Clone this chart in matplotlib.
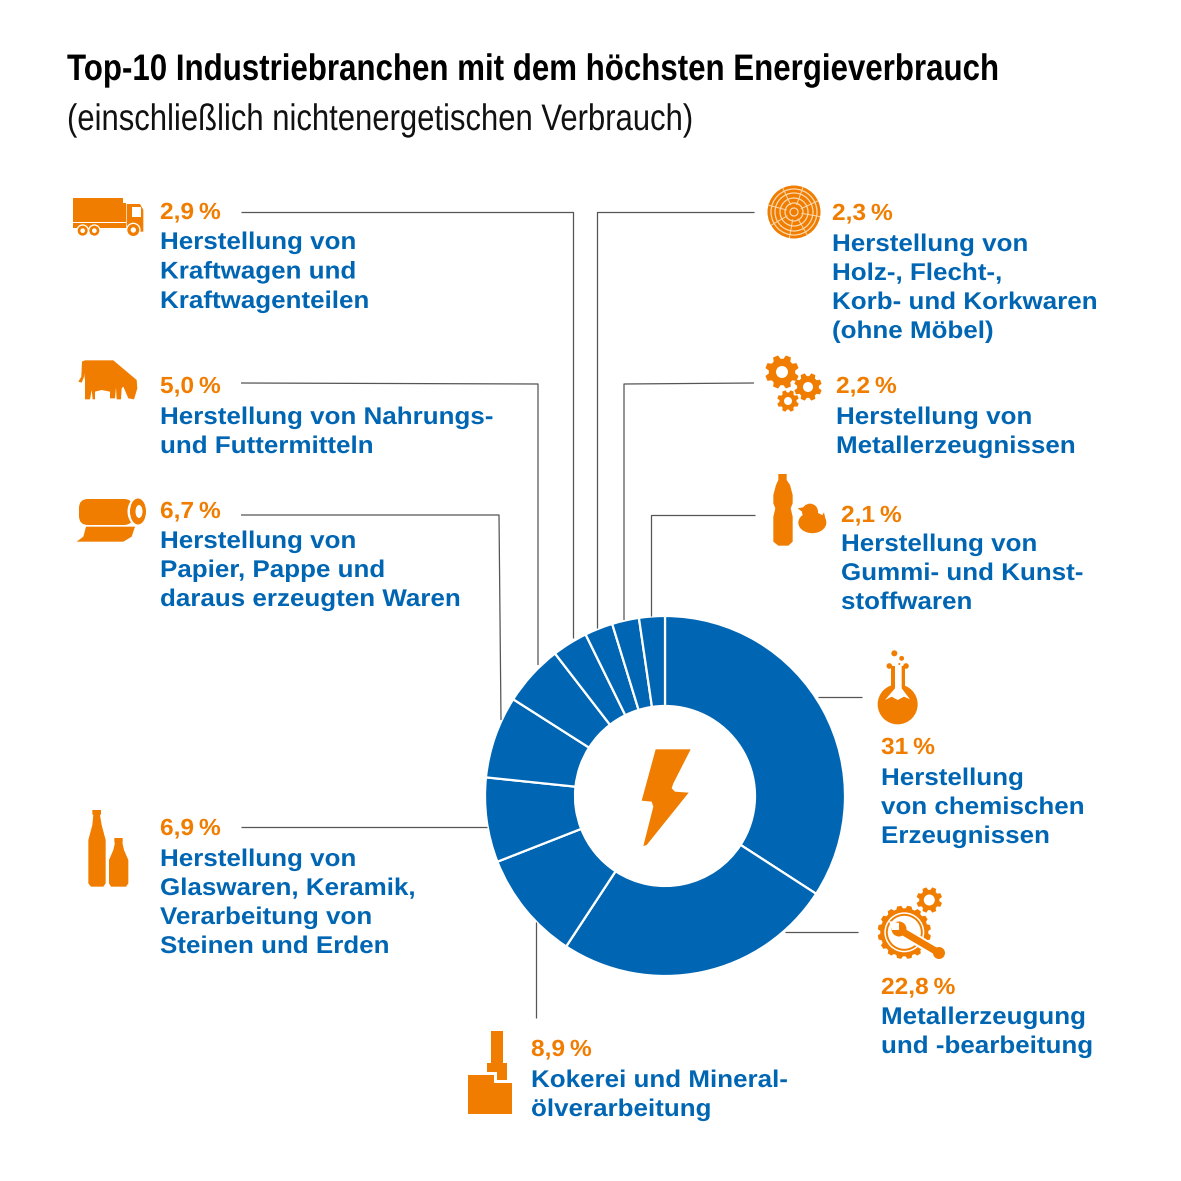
import numpy as np
import matplotlib
matplotlib.use("Agg")
import matplotlib.pyplot as plt
from matplotlib.patches import Circle, Polygon, FancyBboxPatch, Ellipse
from matplotlib.patheffects import AbstractPathEffect
from matplotlib.transforms import Affine2D

# ---- data ----
shares = [31, 22.8, 8.9, 6.9, 6.7, 5.0, 2.9, 2.3, 2.2, 2.1]
pct_labels = ["31 %", "22,8 %", "8,9 %", "6,9 %", "6,7 %", "5,0 %", "2,9 %", "2,3 %", "2,2 %", "2,1 %"]
names = [
    ["Herstellung", "von chemischen", "Erzeugnissen"],
    ["Metallerzeugung", "und -bearbeitung"],
    ["Kokerei und Mineral-", "ölverarbeitung"],
    ["Herstellung von", "Glaswaren, Keramik,", "Verarbeitung von", "Steinen und Erden"],
    ["Herstellung von", "Papier, Pappe und", "daraus erzeugten Waren"],
    ["Herstellung von Nahrungs-", "und Futtermitteln"],
    ["Herstellung von", "Kraftwagen und", "Kraftwagenteilen"],
    ["Herstellung von", "Holz-, Flecht-,", "Korb- und Korkwaren", "(ohne Möbel)"],
    ["Herstellung von", "Metallerzeugnissen"],
    ["Herstellung von", "Gummi- und Kunst-", "stoffwaren"],
]
title = "Top-10 Industriebranchen mit dem höchsten Energieverbrauch"
subtitle = "(einschließlich nichtenergetischen Verbrauch)"

# ---- layout (pixels) ----
W = 1181
BLUE = "#0066b3"
ORANGE = "#f07d00"
LINE = "#555555"
# x, percent baseline, first name baseline, line pitch
label_pos = [(881, 754, 785, 29), (881, 994, 1024, 29), (531, 1056, 1087, 29), (160, 835, 866, 29), (160, 518, 548, 29),
             (160, 393, 424, 29), (160, 219, 249, 29.5), (832, 220, 251, 29), (836, 393, 424, 29), (841, 522, 551, 29)]
leaders = [
    [(818, 697), (862, 697)],
    [(785, 932), (858, 932)],
    [(536, 1018), (536, 922)],
    [(241, 827), (487, 827)],
    [(241, 515), (499, 515), (501, 720)],
    [(241, 383), (538, 384), (538, 665)],
    [(241, 212), (573, 212), (573, 638)],
    [(754, 212), (597, 212), (597, 628)],
    [(754, 383), (624, 384), (624, 620)],
    [(755, 515), (651, 515), (651, 616)],
]

class Stretch(AbstractPathEffect):
    """Scale a text horizontally about its own left edge."""
    def __init__(self, x0, sx):
        super().__init__()
        self.x0, self.sx = x0, sx
    def draw_path(self, renderer, gc, tpath, affine, rgbFace=None):
        t = affine + Affine2D().translate(-self.x0, 0).scale(self.sx, 1).translate(self.x0, 0)
        renderer.draw_path(gc, tpath, t, rgbFace)

fig = plt.figure(figsize=(W / 100, W / 100), dpi=100, facecolor="white")
ov = fig.add_axes([0, 0, 1, 1], zorder=3)
ov.set_xlim(0, W); ov.set_ylim(W, 0); ov.axis("off"); ov.patch.set_alpha(0)
cx, cy, R = 665, 796, 180
pa = fig.add_axes([(cx - R) / W, 1 - (cy + R) / W, 2 * R / W, 2 * R / W], zorder=1)
pa.pie(shares, startangle=90, counterclock=False, radius=1, colors=[BLUE] * len(shares),
       wedgeprops=dict(width=0.5, edgecolor="white", linewidth=1.6))
pa.set_xlim(-1, 1); pa.set_ylim(-1, 1); pa.axis("off")
pa.patch.set_alpha(0)

FAM = ["Liberation Sans", "DejaVu Sans"]
ov.text(67, 80, title, family=FAM, weight="bold", fontsize=26.6, color="black", va="baseline",
        path_effects=[Stretch(67, 0.846)])
ov.text(67, 130, subtitle, family=FAM, fontsize=26.6, color="#111111", va="baseline",
        path_effects=[Stretch(67, 0.84)])

for pct, lines, (x, y, y1, pitch), pts in zip(pct_labels, names, label_pos, leaders):
    ov.text(x, y, pct.replace(" ", "\u2009"), family=FAM, weight="bold", fontsize=16.8, color=ORANGE, va="baseline",
            path_effects=[Stretch(x, 1.05)])
    for i, s in enumerate(lines):
        ov.text(x, y1 + i * pitch, s, family=FAM, weight="bold", fontsize=17.4, color=BLUE, va="baseline",
                path_effects=[Stretch(x, 1.075)])
    ov.plot(*zip(*pts), color=LINE, lw=0.9, solid_capstyle="butt", zorder=1)

# ---- icons ----
def poly(pts, c=ORANGE, **k):
    ov.add_patch(Polygon(pts, closed=True, fc=c, ec="none", **k))
def circ(x, y, r, c=ORANGE):
    ov.add_patch(Circle((x, y), r, fc=c, ec="none"))
def Z(ox, oy, pts):
    return [(ox + a / 3, oy + b / 3) for a, b in pts]
def gear(x, y, r, hole, teeth=8, depth=0.22):
    pts = []
    st = 2 * np.pi / teeth
    for k in range(teeth):
        a0 = st * k + st / 2
        for f, rr in [(-.36, 1 - depth), (-.2, 1), (.2, 1), (.36, 1 - depth)]:
            a = a0 + f * st
            pts.append((x + r * rr * np.cos(a), y + r * rr * np.sin(a)))
    poly(pts)
    circ(x, y, hole, "white")

# truck
Zt = lambda p: Z(60, 180, p)
poly(Zt([(38, 55), (190, 55), (190, 70), (197, 70), (197, 125), (38, 125)]))
poly(Zt([(40, 130), (198, 130), (198, 145), (40, 145)]))
poly(Zt([(200, 72), (240, 72), (250, 90), (250, 155), (200, 155)]))
poly(Zt([(216, 80), (243, 80), (243, 110), (216, 110)]), c="white")
for a, b, r, h in [(68, 152, 15, 7), (103, 152, 15, 7), (220, 150, 18, 8)]:
    x, y = Zt([(a, b)])[0]
    circ(x, y, (r + 4) / 3, "white"); circ(x, y, r / 3); circ(x, y, h / 3, "white")

# cow
poly(Zt([(66, 545), (75, 541), (160, 541), (230, 600), (232, 625), (222, 658), (205, 655), (190, 620), (185, 625),
         (183, 658), (170, 658), (168, 622), (165, 655), (150, 655), (150, 635), (125, 630), (105, 635), (105, 658),
         (98, 658), (95, 630), (90, 658), (75, 658), (75, 600), (72, 580), (70, 555)]))
poly(Zt([(66, 545), (72, 545), (72, 590), (65, 608), (55, 605), (64, 590)]))

# paper roll
ov.add_patch(FancyBboxPatch((79, 499), 54, 26, boxstyle="round,pad=0,rounding_size=9", fc=ORANGE, ec="none"))
ov.add_patch(Ellipse((137.5, 511.5), 20, 28, fc="white", ec="none"))
ov.add_patch(Ellipse((138, 511.5), 16, 26, fc=ORANGE, ec="none"))
ov.add_patch(Ellipse((139, 511.5), 7, 13, fc="white", ec="none"))
poly(Zt([(78, 1040), (225, 1040), (215, 1070), (190, 1085), (50, 1085), (70, 1070)]))

# bottles
Zb = lambda p: Z(60, 800, p)
poly(Zb([(97, 30), (123, 30), (123, 43), (120, 45), (125, 75), (137, 120), (137, 250), (130, 260), (93, 260),
         (85, 250), (85, 120), (97, 75), (100, 45), (97, 43)]))
poly(Zb([(163, 114), (188, 114), (188, 128), (187, 128), (192, 150), (205, 180), (205, 250), (198, 260), (153, 260),
         (147, 250), (147, 180), (160, 150), (165, 128), (163, 128)]))

# refinery
Zr = lambda p: Z(450, 1020, p)
poly(Zr([(124, 32), (160, 32), (160, 128), (172, 128), (172, 180), (140, 180), (140, 156), (110, 156), (110, 128), (124, 128)]))
poly(Zr([(53, 165), (132, 165), (132, 188), (187, 188), (187, 283), (53, 283)]))

# lightning bolt
poly(Z(620, 740, [(107, 28), (212, 28), (160, 130), (155, 145), (165, 155), (206, 158), (80, 315), (70, 318),
                  (100, 200), (95, 185), (65, 182)]), zorder=5)

# log
circ(794, 212, 26.5)
for r in [4, 9, 14, 19, 23]:
    ov.add_patch(Circle((794, 212), r, fc="none", ec="#fbd9b0", lw=0.9))
for a in np.deg2rad([10, 60, 100, 150, 195, 245, 290, 335]):
    ov.plot([794 + 8 * np.cos(a), 794 + 26 * np.cos(a)], [212 + 8 * np.sin(a), 212 + 26 * np.sin(a)], color="#fbd9b0", lw=0.7)

# gears
gear(782, 372, 17, 6)
gear(808, 387, 14, 5)
gear(788, 401, 11, 4)

# bottle + duck
Zd = lambda p: Z(750, 175, p)
poly(Zd([(85, 897), (110, 897), (110, 915), (120, 930), (128, 960), (128, 985), (122, 1000), (128, 1025), (128, 1100),
         (115, 1112), (85, 1112), (70, 1100), (70, 1025), (76, 1000), (70, 985), (70, 960), (78, 930), (85, 915)]))
circ(*Zd([(180, 1010)])[0], 8)
ov.add_patch(Ellipse(Zd([(187, 1043)])[0], 28, 21, fc=ORANGE, ec="none"))
poly(Zd([(143, 1000), (170, 995), (172, 1022)]))
poly(Zd([(222, 1012), (228, 1040), (205, 1040)]))

# flask
Zf = lambda p: Z(860, 640, p)
circ(*Zf([(113, 193)])[0], 20)
poly(Zf([(93, 78), (135, 78), (135, 150), (93, 150)]))
circ(*Zf([(88, 78)])[0], 2.8); circ(*Zf([(138, 78)])[0], 2.8)
poly(Zf([(105, 70), (125, 70), (125, 145), (150, 178), (132, 170), (113, 180), (95, 170), (75, 180), (105, 145)]), c="white")
for a, b, r in [(103, 40, 3), (125, 55, 2.4), (118, 72, 1)]:
    circ(*Zf([(a, b)])[0], r)

# metal gear + wrench
gear(929.3, 900, 13, 5.5)
gear(904.3, 932.3, 26.7, 20, teeth=16, depth=0.1)
ov.add_patch(Circle((904.3, 932.3), 17.5, fc="none", ec=ORANGE, lw=1.4))
ov.plot([905, 930], [933, 948], color="white", lw=8, solid_capstyle="butt")
ov.plot([905, 939], [933, 953], color=ORANGE, lw=5, solid_capstyle="round")
circ(899, 929, 7.5)
poly([(889, 921), (899, 923), (899, 930), (892, 930)], c="white")
circ(939, 953, 6); circ(939, 953, 2.7, "white")

fig.savefig("out.png", dpi=100, facecolor="white")
